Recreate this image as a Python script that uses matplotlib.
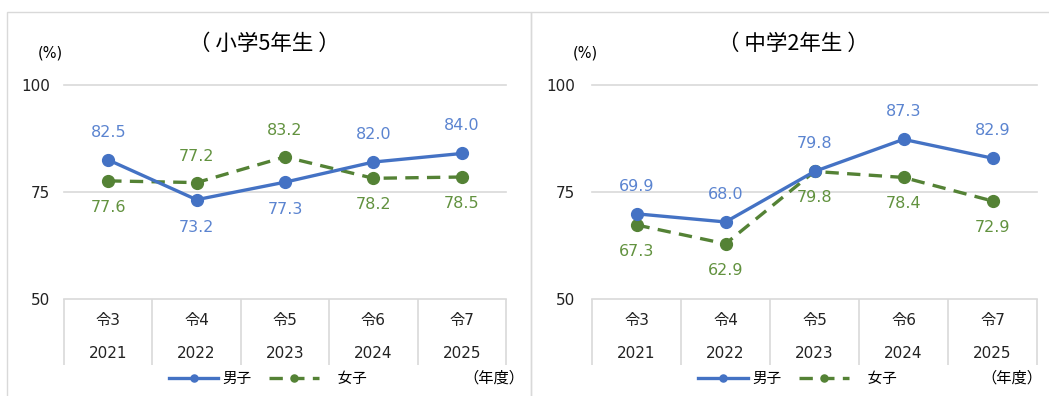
import matplotlib
matplotlib.use("Agg")
import matplotlib.pyplot as plt
from matplotlib.patches import Rectangle

plt.rcParams["font.family"] = ["DejaVu Sans", "Noto Sans CJK JP"]
CJK = ["Noto Sans CJK JP", "DejaVu Sans"]

# ── Data ────────────────────────────────────────────────────────────────────
eras = ["令3", "令4", "令5", "令6", "令7"]
years = ["2021", "2022", "2023", "2024", "2025"]

elem_boys = [82.5, 73.2, 77.3, 82.0, 84.0]
elem_girls = [77.6, 77.2, 83.2, 78.2, 78.5]
jhs_boys = [69.9, 68.0, 79.8, 87.3, 82.9]
jhs_girls = [67.3, 62.9, 79.8, 78.4, 72.9]

# label above (+1) or below (-1) each point
elem_boys_pos = [1, -1, -1, 1, 1]
elem_girls_pos = [-1, 1, 1, -1, -1]
jhs_boys_pos = [1, 1, 1, 1, 1]
jhs_girls_pos = [-1, -1, -1, -1, -1]

BLUE = "#4472C4"
GREEN = "#548235"
BLUE_TXT = "#5B84D0"
GREEN_TXT = "#62923F"
GRID = "#d9d9d9"
TXT = "#222222"

W, H = 1049, 396
fig = plt.figure(figsize=(W / 100, H / 100), dpi=100)


def px_box(x0, x1, y_top, y_bot):
    return [x0 / W, 1 - y_bot / H, (x1 - x0) / W, (y_bot - y_top) / H]


# panel frames
fig.add_artist(Rectangle((7 / W, -0.1), (531 - 7) / W, 1.1 - 12 / H,
                         transform=fig.transFigure, fill=False, ec=GRID, lw=1))
fig.add_artist(Rectangle((531 / W, -0.1), 0.6, 1.1 - 12 / H,
                         transform=fig.transFigure, fill=False, ec=GRID, lw=1))


def draw_panel(x0, x1, title, boys, girls, bpos, gpos, pad, title_x, pct_x, unit_x):
    ax = fig.add_axes(px_box(x0, x1, 85, 299))
    xs = list(range(len(eras)))
    ax.set_xlim(-0.5, len(eras) - 0.5)
    ax.set_ylim(50, 100)

    for v in (50, 75, 100):
        ax.axhline(v, color=GRID, lw=1.2, zorder=0, clip_on=False)
    for s in ax.spines.values():
        s.set_visible(False)
    ax.set_yticks([50, 75, 100])
    ax.set_yticklabels(["50", "75", "100"], fontsize=11, color=TXT)
    ax.tick_params(axis="y", length=0, pad=pad)
    ax.set_xticks([])

    # category table lines under the axis
    tr = ax.get_xaxis_transform()
    ax.vlines([i - 0.5 for i in range(len(eras) + 1)], -66 / 214, 0,
              transform=tr, color=GRID, lw=1.2, clip_on=False)
    for i in xs:
        ax.text(i, -22 / 214, eras[i], transform=tr, ha="center", va="center",
                fontsize=11, color=TXT)
        ax.text(i, -54 / 214, years[i], transform=tr, ha="center", va="center",
                fontsize=11, color=TXT)

    ax.plot(xs, boys, "-", color=BLUE, lw=2.4, marker="o", ms=8.5,
            label="男子", zorder=3, clip_on=False)
    ax.plot(xs, girls, "--", color=GREEN, lw=2.4, marker="o", ms=8.5,
            dashes=(4, 2.5), label="　女子", zorder=2, clip_on=False)

    for x, v, p in zip(xs, boys, bpos):
        ax.annotate(f"{v:.1f}", (x, v), xytext=(0, 20 * p), textcoords="offset points",
                    ha="center", va="center", fontsize=11.5, color=BLUE_TXT)
    for x, v, p in zip(xs, girls, gpos):
        ax.annotate(f"{v:.1f}", (x, v), xytext=(0, 19 * p), textcoords="offset points",
                    ha="center", va="center", fontsize=11.5, color=GREEN_TXT)

    fig.text(title_x / W, 1 - 44 / H, title, ha="center", va="center",
             fontsize=15.5, family=CJK)
    fig.text(pct_x / W, 1 - 53 / H, "(%)", ha="center", va="center", fontsize=10.5)

    cx = (x0 + x1) / 2 - 17
    ax.legend(loc="center", bbox_to_anchor=(cx / W, 1 - 379 / H),
              bbox_transform=fig.transFigure, ncol=2, frameon=False,
              prop={"family": CJK, "size": 10.5},
              handlelength=3.4, handletextpad=0.3, columnspacing=1.2,
              markerscale=0.6, borderpad=0, borderaxespad=0)
    fig.text(unit_x / W, 1 - 378 / H, "（年度）", ha="center", va="center",
             fontsize=11, family=CJK)
    return ax


draw_panel(64, 506, "（ 小学5年生 ）", elem_boys, elem_girls,
           elem_boys_pos, elem_girls_pos, 10, 264, 50, 494)
draw_panel(592, 1037, "（ 中学2年生 ）", jhs_boys, jhs_girls,
           jhs_boys_pos, jhs_girls_pos, 12, 793, 585, 1012)

fig.savefig("out.png", dpi=100)
